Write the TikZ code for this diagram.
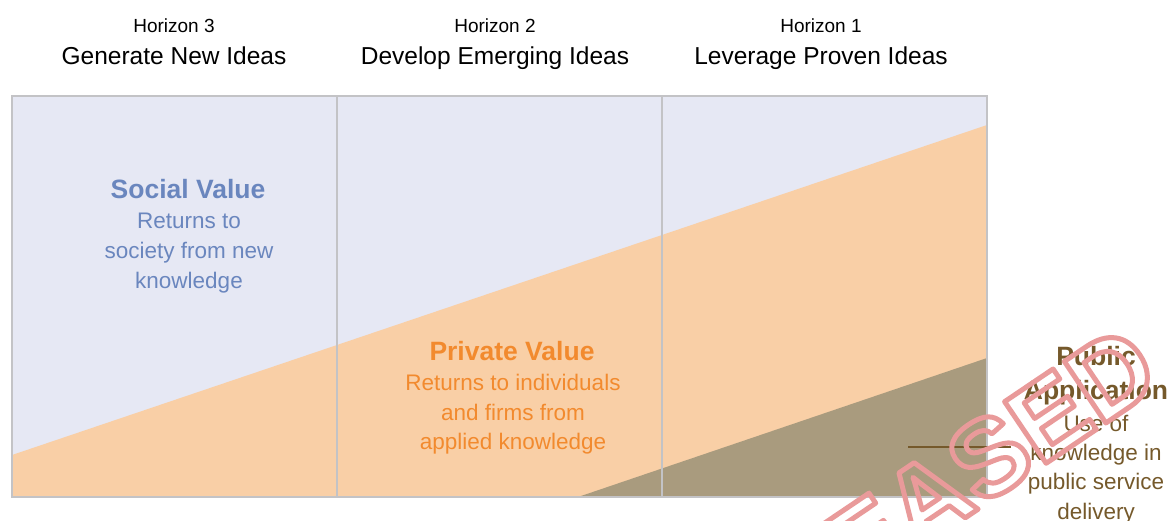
\documentclass[tikz,border=0pt]{standalone}
\usepackage{fontspec}
\setmainfont{Liberation Sans}
\definecolor{lav}{HTML}{E6E8F4}
\definecolor{orng}{HTML}{F9CFA6}
\definecolor{brwn}{HTML}{A99B7E}
\definecolor{gridc}{HTML}{C3C3C6}
\definecolor{socialc}{HTML}{6A86BE}
\definecolor{privc}{HTML}{F28A2E}
\definecolor{pubc}{HTML}{75592B}
\definecolor{stampc}{HTML}{E99A9A}
\tikzset{
  hsmall/.style={anchor=base, font=\fontsize{19}{19}\selectfont, text=black},
  htitle/.style={anchor=base, font=\fontsize{24.5}{24.5}\selectfont, text=black},
  headb/.style={anchor=base, font=\fontsize{26.5}{26.5}\selectfont\bfseries},
  bodyt/.style={anchor=base, font=\fontsize{22.5}{22.5}\selectfont},
  gridline/.style={draw=gridc, line width=2.5pt},
  stamptext/.style={inner sep=0pt, text=stampc, font=\fontsize{108}{108}\selectfont\bfseries},
}
\begin{document}
\begin{tikzpicture}[x=1pt,y=-1pt]
\useasboundingbox (0,0) rectangle (1169,520);
\clip (0,0) rectangle (1169,520);
% fills
\fill[lav] (12,96) rectangle (987,497);
\fill[orng] (12,455) -- (987,125) -- (987,497) -- (12,497) -- cycle;
\fill[brwn] (578,497) -- (987,358) -- (987,497) -- cycle;
% grid
\coordinate (t1) at (337,96); \coordinate (b1) at (337,497);
\coordinate (t2) at (662,96); \coordinate (b2) at (662,497);
\draw[gridline] (t1) -- (b1);
\draw[gridline] (t2) -- (b2);
\draw[gridline] (12,96) rectangle (987,497);
% headers
\node[hsmall] (h3) at (174,32) {Horizon 3};
\node[hsmall] (h2) at (495,32) {Horizon 2};
\node[hsmall] (h1) at (821,32) {Horizon 1};
\node[htitle] (g3) at (174,64) {Generate New Ideas};
\node[htitle] (g2) at (495,64) {Develop Emerging Ideas};
\node[htitle] (g1) at (821,64) {Leverage Proven Ideas};
% social
\node[headb, text=socialc] (sv) at (188,198) {Social Value};
\node[bodyt, text=socialc] (sv1) at (189,228) {Returns to};
\node[bodyt, text=socialc] (sv2) at (189,258) {society from new};
\node[bodyt, text=socialc] (sv3) at (189,288) {knowledge};
% private
\node[headb, text=privc] (pv) at (512,360) {Private Value};
\node[bodyt, text=privc] (pv1) at (513,390) {Returns to individuals};
\node[bodyt, text=privc] (pv2) at (513,420) {and firms from};
\node[bodyt, text=privc] (pv3) at (513,449) {applied knowledge};
% public
\coordinate (la) at (908,447);
\coordinate (lb) at (1011,447);
\draw[pubc, line width=2pt] (la) -- (lb);
\node[headb, text=pubc] (pa) at (1096,365) {Public};
\node[headb, text=pubc] (pa2) at (1096,399) {Application};
\node[bodyt, text=pubc] (pa3) at (1096,431) {Use of};
\node[bodyt, text=pubc] (pa4) at (1096,460) {knowledge in};
\node[bodyt, text=pubc] (pa5) at (1096,489) {public service};
\node[bodyt, text=pubc] (pa6) at (1096,519) {delivery};
% stamp (outlined text)
\node[stamptext, rotate=34] (stamp) at (900,517)
  {\special{pdf:literal direct 1 Tr 5 w 1 j}RELEASED\special{pdf:literal direct 0 Tr}};
\end{tikzpicture}
\end{document}
